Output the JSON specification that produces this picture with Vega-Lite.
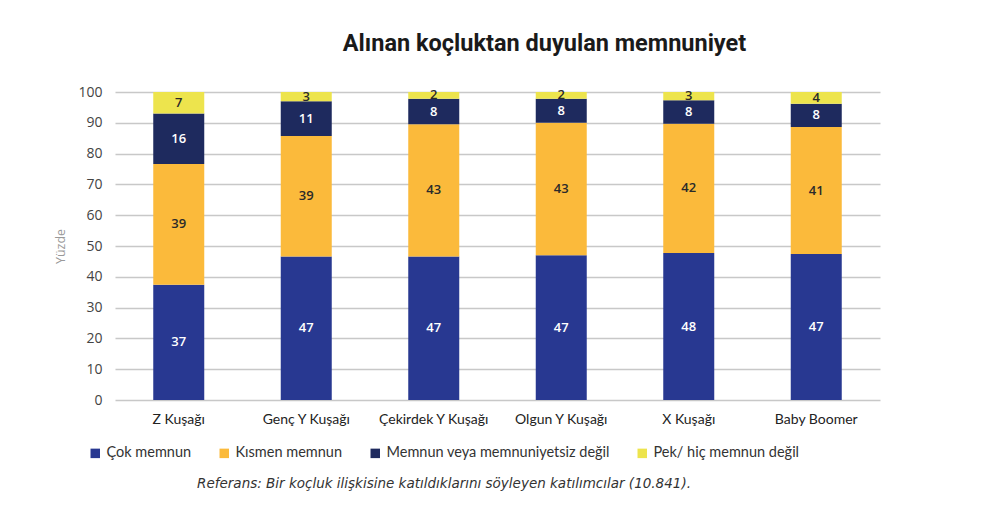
{
  "$schema": "https://vega.github.io/schema/vega-lite/v6.json",
  "width": 765,
  "height": 308,
  "autosize": {"type": "none"},
  "padding": {"left": 115, "top": 92, "right": 114, "bottom": 121},
  "background": "white",
  "config": {
    "view": {"stroke": null},
    "axisY": {
      "titleFont": "Open Sans",
      "titleFontSize": 12.5,
      "titleFontWeight": "normal",
      "titleColor": "#999",
      "titlePadding": 10,
      "domain": false,
      "ticks": false,
      "grid": true,
      "gridColor": "#c8c8c8",
      "gridWidth": 1.5,
      "labelPadding": 13,
      "labelFont": "Open Sans",
      "labelFontSize": 14,
      "labelColor": "#444"
    }
  },
  "title": {
    "text": "Alınan koçluktan duyulan memnuniyet",
    "font": "Roboto",
    "fontSize": 23.5,
    "fontWeight": "bold",
    "color": "#1a1a1a",
    "anchor": "middle",
    "dx": 47,
    "offset": 30
  },
  "data": {
    "values": [
      {"gen": "Z Kuşağı", "cat": "Çok memnun", "o": 1, "v": 37.4},
      {"gen": "Z Kuşağı", "cat": "Kısmen memnun", "o": 2, "v": 39.2},
      {"gen": "Z Kuşağı", "cat": "Memnun veya memnuniyetsiz değil", "o": 3, "v": 16.4},
      {"gen": "Z Kuşağı", "cat": "Pek/ hiç memnun değil", "o": 4, "v": 7.0},
      {"gen": "Genç Y Kuşağı", "cat": "Çok memnun", "o": 1, "v": 46.6},
      {"gen": "Genç Y Kuşağı", "cat": "Kısmen memnun", "o": 2, "v": 39.1},
      {"gen": "Genç Y Kuşağı", "cat": "Memnun veya memnuniyetsiz değil", "o": 3, "v": 11.3},
      {"gen": "Genç Y Kuşağı", "cat": "Pek/ hiç memnun değil", "o": 4, "v": 3.0},
      {"gen": "Çekirdek Y Kuşağı", "cat": "Çok memnun", "o": 1, "v": 46.6},
      {"gen": "Çekirdek Y Kuşağı", "cat": "Kısmen memnun", "o": 2, "v": 42.9},
      {"gen": "Çekirdek Y Kuşağı", "cat": "Memnun veya memnuniyetsiz değil", "o": 3, "v": 8.3},
      {"gen": "Çekirdek Y Kuşağı", "cat": "Pek/ hiç memnun değil", "o": 4, "v": 2.2},
      {"gen": "Olgun Y Kuşağı", "cat": "Çok memnun", "o": 1, "v": 47.0},
      {"gen": "Olgun Y Kuşağı", "cat": "Kısmen memnun", "o": 2, "v": 43.0},
      {"gen": "Olgun Y Kuşağı", "cat": "Memnun veya memnuniyetsiz değil", "o": 3, "v": 7.8},
      {"gen": "Olgun Y Kuşağı", "cat": "Pek/ hiç memnun değil", "o": 4, "v": 2.2},
      {"gen": "X Kuşağı", "cat": "Çok memnun", "o": 1, "v": 47.7},
      {"gen": "X Kuşağı", "cat": "Kısmen memnun", "o": 2, "v": 42.0},
      {"gen": "X Kuşağı", "cat": "Memnun veya memnuniyetsiz değil", "o": 3, "v": 7.6},
      {"gen": "X Kuşağı", "cat": "Pek/ hiç memnun değil", "o": 4, "v": 2.7},
      {"gen": "Baby Boomer", "cat": "Çok memnun", "o": 1, "v": 47.4},
      {"gen": "Baby Boomer", "cat": "Kısmen memnun", "o": 2, "v": 41.2},
      {"gen": "Baby Boomer", "cat": "Memnun veya memnuniyetsiz değil", "o": 3, "v": 7.6},
      {"gen": "Baby Boomer", "cat": "Pek/ hiç memnun değil", "o": 4, "v": 3.8}
    ]
  },
  "transform": [
    {"stack": "v", "groupby": ["gen"], "sort": [{"field": "o", "order": "ascending"}], "as": ["y0", "y1"]}
  ],
  "encoding": {
    "x": {
      "field": "gen",
      "type": "nominal",
      "sort": ["Z Kuşağı", "Genç Y Kuşağı", "Çekirdek Y Kuşağı", "Olgun Y Kuşağı", "X Kuşağı", "Baby Boomer"],
      "scale": {"paddingInner": 0.6, "paddingOuter": 0.3},
      "axis": {
        "title": null,
        "labelAngle": 0,
        "domain": false,
        "ticks": false,
        "grid": false,
        "labelPadding": 12,
        "labelFont": "Lato",
        "labelFontSize": 14,
        "labelColor": "#222"
      }
    }
  },
  "layer": [
    {
      "mark": {"type": "bar"},
      "encoding": {
        "y": {
          "field": "y0",
          "type": "quantitative",
          "scale": {"domain": [0, 100], "nice": false},
          "axis": {"title": "Yüzde", "values": [0, 10, 20, 30, 40, 50, 60, 70, 80, 90, 100]}
        },
        "y2": {"field": "y1"},
        "color": {
          "field": "cat",
          "type": "nominal",
          "scale": {
            "domain": ["Çok memnun", "Kısmen memnun", "Memnun veya memnuniyetsiz değil", "Pek/ hiç memnun değil"],
            "range": ["#283891", "#fbba3b", "#1e2a5e", "#ede44d"]
          },
          "legend": {
            "orient": "none",
            "legendX": -27,
            "legendY": 354,
            "direction": "horizontal",
            "columns": 4,
            "symbolType": "square",
            "symbolSize": 90,
            "symbolStrokeWidth": 0,
            "labelFont": "Lato",
            "labelFontSize": 14.5,
            "labelColor": "#333",
            "labelLimit": 300,
            "columnPadding": 25,
            "title": "Referans: Bir koçluk ilişkisine katıldıklarını söyleyen katılımcılar (10.841).",
            "titleOrient": "bottom",
            "titleAnchor": "middle",
            "titleFont": "DejaVu Sans",
            "titleFontStyle": "italic",
            "titleFontWeight": "normal",
            "titleFontSize": 13.5,
            "titleColor": "#333",
            "titlePadding": 17,
            "titleLimit": 800
          }
        }
      }
    },
    {
      "transform": [{"fold": ["y0", "y1"], "as": ["k", "pos"]}],
      "mark": {"type": "text", "font": "Open Sans", "fontSize": 13, "fontWeight": 600, "baseline": "middle"},
      "encoding": {
        "y": {
          "aggregate": "mean",
          "field": "pos",
          "type": "quantitative",
          "axis": {"title": "Yüzde", "values": [0, 10, 20, 30, 40, 50, 60, 70, 80, 90, 100]}
        },
        "detail": {"field": "cat"},
        "text": {"aggregate": "max", "field": "v", "type": "quantitative", "format": ".0f"},
        "color": {
          "condition": {"test": "datum.cat === 'Çok memnun' || datum.cat === 'Memnun veya memnuniyetsiz değil'", "value": "white"},
          "value": "#2a2a2a"
        }
      }
    }
  ]
}
